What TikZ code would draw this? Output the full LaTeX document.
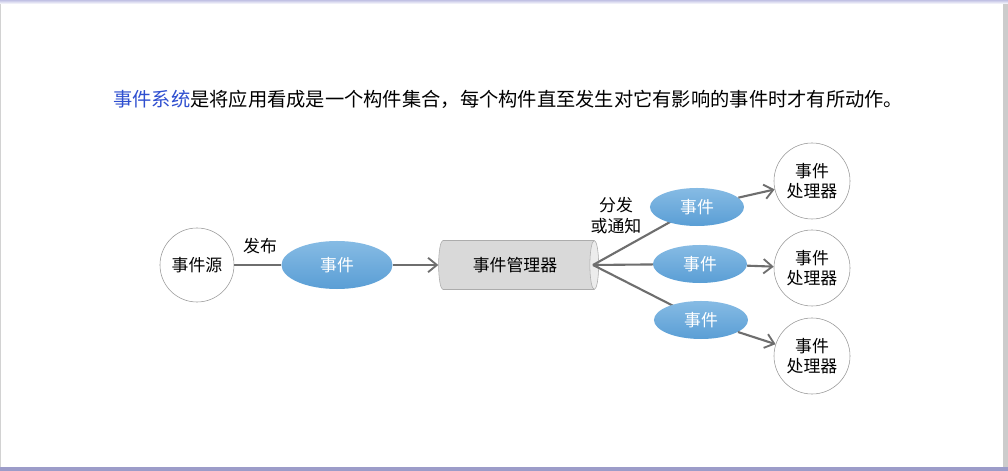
\documentclass[tikz,border=0pt]{standalone}
\usepackage{fontspec}
\newfontfamily\cjk{Noto Sans CJK SC}
\usetikzlibrary{shapes.geometric,arrows.meta}
\definecolor{titleblue}{HTML}{2F4FD0}
\definecolor{evtop}{HTML}{86BBE4}
\definecolor{evbot}{HTML}{5A9ED5}
\definecolor{linegray}{HTML}{6E6E6E}
\begin{document}
\begin{tikzpicture}[x=0.025cm, y=-0.025cm, every node/.style={font=\cjk\fontsize{12}{14}\selectfont},
  conn/.style={draw=linegray,line width=1.5pt},
  arr/.style={conn,-{Straight Barb[length=2.2mm,width=3.6mm,line width=1.3pt]}},
  evnode/.style={ellipse,top color=evtop,bottom color=evbot,text=white,inner sep=0pt},
  hnode/.style={circle,draw=gray!80,thin,fill=white,minimum size=1.9cm,inner sep=0pt,align=center}]
% frame
\fill[white] (0,0) rectangle (1008,471);
\fill[gray!35] (0,0) rectangle (1.5,471);
\fill[gray!40] (1003,0) rectangle (1008,471);
\fill[top color=gray!60!blue!35,bottom color=white] (0,0) rectangle (1008,4);
\fill[blue!30!gray!60] (0,467) rectangle (1008,471);
% title
\node[anchor=west,inner sep=0pt,font=\cjk\fontsize{13.7}{16}\selectfont] (title) at (113,99) {{\color{titleblue}事件系统}是将应用看成是一个构件集合，每个构件直至发生对它有影响的事件时才有所动作。};
% source -> manager
\node[circle,draw=gray!80,thin,fill=white,minimum size=1.85cm,inner sep=0pt] (src) at (197,265) {事件源};
\node (pub) at (260,246) {发布};
\node[evnode,minimum width=2.775cm,minimum height=1.2cm] (ev) at (337,265) {事件};
\node[cylinder,shape aspect=0.35,draw=gray!65,cylinder uses custom fill,cylinder body fill=gray!30,cylinder end fill=gray!15,minimum width=1.225cm,minimum height=4cm] (mgr) at (515,265) {事件管理器};
\draw[conn] (src) -- (ev);
\draw[arr] (ev) -- (mgr);
% dispatch
\node[align=center,font=\cjk\fontsize{12}{15}\selectfont] (disp) at (616,216) {分发\\或通知};
\coordinate (fan) at (593,265);
\node[hnode] (h1) at (812,181) {事件\\处理器};
\node[hnode] (h2) at (812,268) {事件\\处理器};
\node[hnode] (h3) at (812,356) {事件\\处理器};
\draw[conn] (fan) -- (697,207);
\draw[conn] (fan) -- (700,264);
\draw[conn] (fan) -- (701,320);
\node[evnode,minimum width=2.35cm,minimum height=0.95cm] (e1) at (697,207) {事件};
\node[evnode,minimum width=2.35cm,minimum height=0.95cm] (e2) at (700,264) {事件};
\node[evnode,minimum width=2.35cm,minimum height=0.95cm] (e3) at (701,320) {事件};
\draw[arr] (e1) -- (h1);
\draw[arr] (e2) -- (h2);
\draw[arr] (e3) -- (h3);
\end{tikzpicture}
\end{document}
